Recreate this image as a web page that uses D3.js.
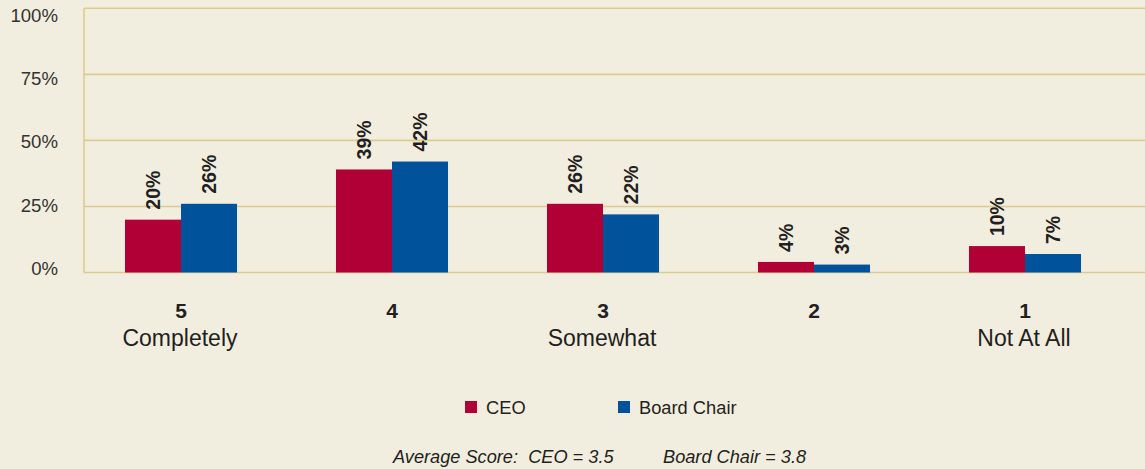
<!DOCTYPE html>
<html>
<head>
<meta charset="utf-8">
<script src="https://cdn.jsdelivr.net/npm/d3@7"></script>
<style>
  html, body { margin: 0; padding: 0; background: #f2eedf; }
  svg { display: block; }
  text { font-family: "Liberation Sans", Arial, Helvetica, sans-serif; fill: #231f20; }
</style>
</head>
<body>
<svg id="chart" width="1145" height="469"></svg>
<script>
const categories = ["5", "4", "3", "2", "1"];
const categorySubLabels = ["Completely", "", "Somewhat", "", "Not At All"];
const seriesNames = ["CEO", "Board Chair"];
const ceoValues = [20, 39, 26, 4, 10];
const boardChairValues = [26, 42, 22, 3, 7];
const yTicks = [0, 25, 50, 75, 100];
const footerTexts = ["Average Score:  CEO = 3.5", "Board Chair = 3.8"];

const colors = { "CEO": "#b10036", "Board Chair": "#00529b" };
const W = 1145, H = 469;
const svg = d3.select("#chart");

svg.append("rect").attr("width", W).attr("height", H).attr("fill", "#f2eedf");

const plotLeft = 84, plotRight = 1145;
const y = d3.scaleLinear().domain([0, 100]).range([272.5, 8.3]);
const yLab = d3.scaleLinear().domain([0, 100]).range([268, 15.5]);
const x0 = d3.scaleBand().domain(categories).range([75.5, 1130.5]).paddingInner(0.469).paddingOuter(0.2345);
const x1 = d3.scaleBand().domain(seriesNames).range([0, x0.bandwidth()]);

const grid = "#dccb8e";
svg.append("g").selectAll("line").data(yTicks).join("line")
  .attr("x1", plotLeft).attr("x2", plotRight)
  .attr("y1", d => y(d)).attr("y2", d => y(d))
  .attr("stroke", grid).attr("stroke-width", 1.6);
svg.append("line").attr("x1", plotLeft).attr("x2", plotLeft)
  .attr("y1", y(100)).attr("y2", y(0)).attr("stroke", grid).attr("stroke-width", 1.6);

svg.append("g").selectAll("text").data(yTicks).join("text")
  .attr("x", 58).attr("y", d => yLab(d)).attr("dy", "0.36em")
  .attr("text-anchor", "end").attr("font-size", 18.6).style("fill", "#333")
  .text(d => d + "%");

const rows = categories.map((c, i) => ({ cat: c, vals: [
  { s: "CEO", v: ceoValues[i] }, { s: "Board Chair", v: boardChairValues[i] } ] }));

const groups = svg.append("g").selectAll("g").data(rows).join("g")
  .attr("transform", d => `translate(${x0(d.cat)},0)`);

groups.selectAll("rect").data(d => d.vals).join("rect")
  .attr("x", d => x1(d.s)).attr("width", x1.bandwidth())
  .attr("y", d => y(d.v)).attr("height", d => y(0) - y(d.v))
  .attr("fill", d => colors[d.s]);

groups.selectAll("text.val").data(d => d.vals).join("text")
  .attr("class", "val")
  .attr("transform", d => `translate(${x1(d.s) + x1.bandwidth() / 2},${y(d.v) - 10}) rotate(-90)`)
  .attr("dy", "0.36em").attr("font-size", 19.5).attr("font-weight", "bold")
  .text(d => d.v + "%");

svg.append("g").selectAll("text").data(categories).join("text")
  .attr("x", d => x0(d) + x0.bandwidth() / 2).attr("y", 318)
  .attr("text-anchor", "middle").attr("font-size", 21).attr("font-weight", "bold")
  .text(d => d);
svg.append("g").selectAll("text").data(categories).join("text")
  .attr("x", d => x0(d) + x0.bandwidth() / 2 - 1).attr("y", 346)
  .attr("text-anchor", "middle").attr("font-size", 23)
  .text((d, i) => categorySubLabels[i]);

const legendX = [465, 618];
const leg = svg.append("g").selectAll("g").data(seriesNames).join("g")
  .attr("transform", (d, i) => `translate(${legendX[i]},401)`);
leg.append("rect").attr("width", 12).attr("height", 12).attr("fill", d => colors[d]);
leg.append("text").attr("x", 21).attr("y", 12.5).attr("font-size", 18.3).text(d => d);

const footerX = [393, 663];
svg.append("g").selectAll("text").data(footerTexts).join("text")
  .attr("x", (d, i) => footerX[i]).attr("y", 463)
  .attr("font-size", 18.2).attr("font-style", "italic").style("white-space", "pre")
  .text(d => d);
</script>
</body>
</html>
